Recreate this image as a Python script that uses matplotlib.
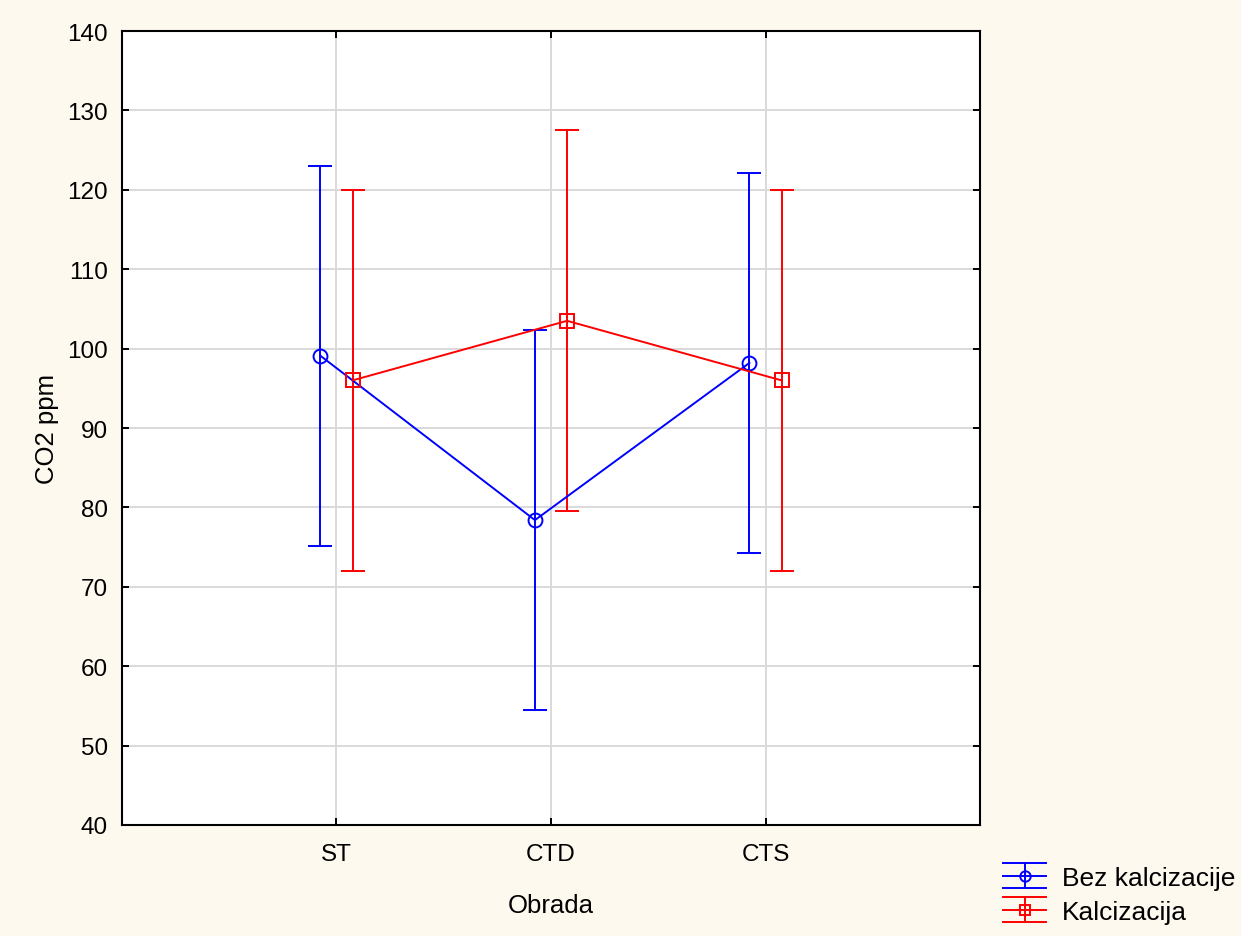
import numpy as np
import matplotlib
matplotlib.use("Agg")
import matplotlib.pyplot as plt
from matplotlib.legend_handler import HandlerBase
from matplotlib.lines import Line2D

plt.rcParams['font.family'] = ['Liberation Sans', 'DejaVu Sans']

categories = ['ST', 'CTD', 'CTS']
bez_mean = [99.1, 78.4, 98.2]
bez_err = [23.9, 23.9, 23.9]
kal_mean = [96.0, 103.5, 96.0]
kal_err = [24.0, 24.0, 24.0]
series_names = ['Bez kalcizacije', 'Kalcizacija']

bg = '#FEF9EE'
offset = 0.075
lw = 1.4


class HandlerErr(HandlerBase):
    """Legend handle: full-width caps, center line, vertical bar, marker"""
    def __init__(self, color, marker):
        super().__init__()
        self.color = color
        self.marker = marker

    def create_artists(self, legend, orig_handle, xdescent, ydescent,
                       width, height, fontsize, trans):
        x0, x1 = -xdescent, -xdescent + width
        yc = -ydescent + height / 2
        dy = height * 0.68
        xc = (x0 + x1) / 2
        arts = []
        for y in (yc - dy, yc, yc + dy):
            arts.append(Line2D([x0, x1], [y, y], color=self.color, lw=lw))
        arts.append(Line2D([xc, xc], [yc - dy, yc + dy], color=self.color, lw=lw))
        arts.append(Line2D([xc], [yc], marker=self.marker, ms=7.5,
                           mfc='none', mec=self.color, mew=lw, ls='none'))
        for a in arts:
            a.set_transform(trans)
        return arts


fig = plt.figure(figsize=(12.41, 9.37), dpi=100, facecolor=bg)
ax = fig.add_axes([0.0983, 0.1185, 0.6914, 0.8473])

x = np.arange(len(categories))
eb1 = ax.errorbar(x - offset, bez_mean, yerr=bez_err, color='#0000FF',
                  marker='o', ms=10, mfc='none', mec='#0000FF', mew=lw,
                  lw=lw, capsize=8.3, capthick=lw, elinewidth=lw, zorder=3)
eb2 = ax.errorbar(x + offset, kal_mean, yerr=kal_err, color='#FF0000',
                  marker='s', ms=9.5, mfc='none', mec='#FF0000', mew=lw,
                  lw=lw, capsize=8.3, capthick=lw, elinewidth=lw, zorder=3)

ax.set_xlim(-1, 3)
ax.set_ylim(40, 140)
ax.set_xticks(x)
ax.set_xticklabels(categories)
ax.set_yticks(np.arange(40, 141, 10))
ax.grid(True, color='#D9D9D9', lw=1.4)
ax.set_axisbelow(True)
ax.tick_params(direction='in', length=5, width=1.4, labelsize=17.5,
               top=True, right=True)
ax.tick_params(axis='y', pad=10)
ax.tick_params(axis='x', pad=13)
for s in ax.spines.values():
    s.set_linewidth(1.5)

ax.set_xlabel('Obrada', fontsize=18.5, labelpad=20)
ax.set_ylabel('CO2 ppm', fontsize=18.5, labelpad=6)

fig.legend([eb1, eb2], series_names,
           handler_map={eb1: HandlerErr('#0000FF', 'o'),
                        eb2: HandlerErr('#FF0000', 's')},
           loc='lower left', bbox_to_anchor=(0.7995, 0.0015),
           frameon=False, fontsize=19, handlelength=1.65, handletextpad=0.6,
           labelspacing=0.38, borderaxespad=0)

fig.savefig('out.png', dpi=100, facecolor=bg)
